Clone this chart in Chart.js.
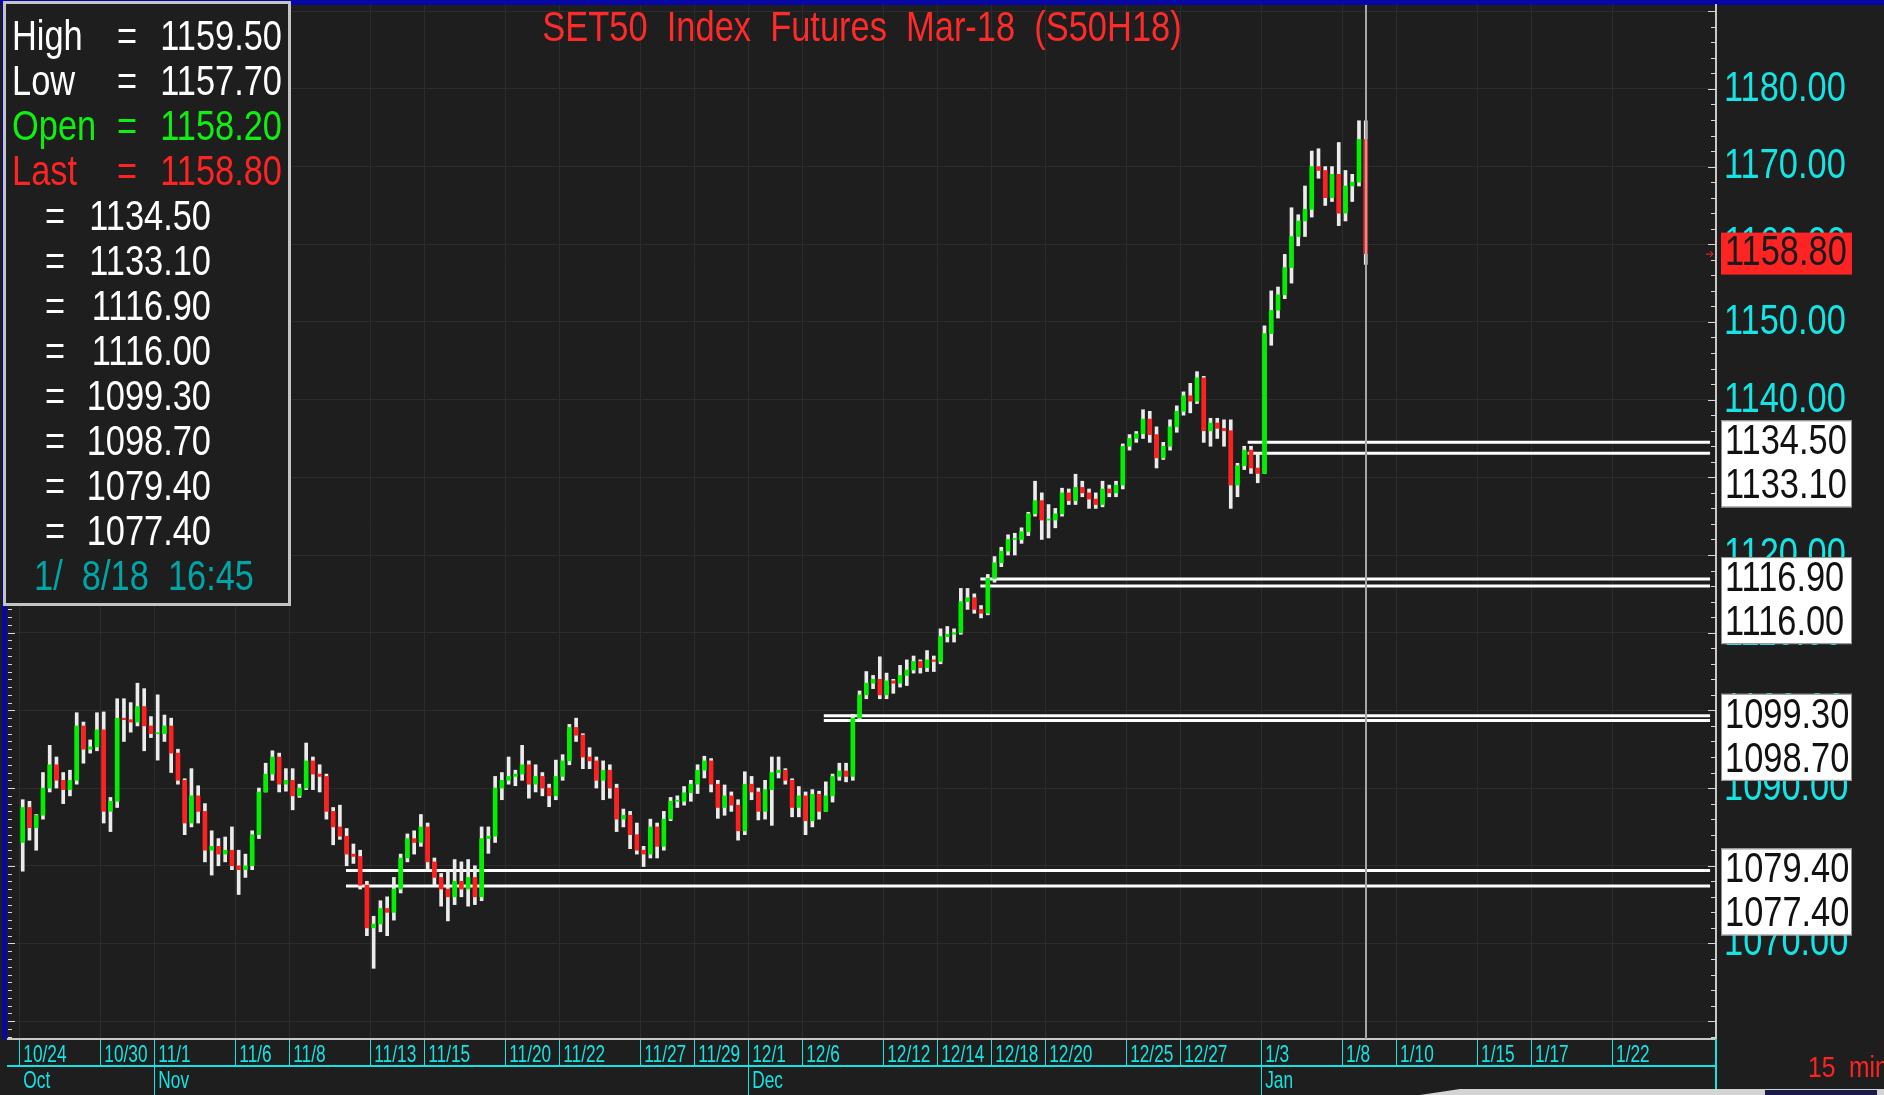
<!DOCTYPE html>
<html>
<head>
<meta charset="utf-8">
<style>
html, body { margin: 0; padding: 0; background: #1e1e1e; overflow: hidden; }
</style>
<script src="https://cdn.jsdelivr.net/npm/chart.js@4.4.1/dist/chart.umd.min.js"></script>
</head>
<body>
<canvas id="chart" width="1884" height="1095"></canvas>
<script>
// trading days shown on the time axis (index = position on the axis)
var allDays = ['10/24', '10/25', '10/27', '10/30', '10/31', '11/1', '11/2', '11/3', '11/6', '11/7',
    '11/8', '11/9', '11/10', '11/13', '11/14', '11/15', '11/16', '11/17', '11/20', '11/21',
    '11/22', '11/23', '11/24', '11/27', '11/28', '11/29', '11/30', '12/1', '12/4', '12/6',
    '12/7', '12/8', '12/12', '12/13', '12/14', '12/15', '12/18', '12/19', '12/20', '12/21',
    '12/22', '12/25', '12/26', '12/27', '12/28', '12/29', '1/3', '1/4', '1/5', '1/8',
    '1/9', '1/10', '1/11', '1/12', '1/15', '1/16', '1/17', '1/18', '1/19', '1/22',
    '1/23', '1/24', '1/25'];
var dateTicks = ['10/24', '10/30', '11/1', '11/6', '11/8', '11/13', '11/15', '11/20', '11/22', '11/27',
    '11/29', '12/1', '12/6', '12/12', '12/14', '12/18', '12/20', '12/25', '12/27', '1/3',
    '1/8', '1/10', '1/15', '1/17', '1/22'];
var monthStarts = ['10/24', '11/1', '12/1', '1/3'];
var monthNames = ['Oct', 'Nov', 'Dec', 'Jan'];

// four bars per trading day, 10/24 .. 1/8
var firstOpen = 1083.0;
var highs = [
    1088.5, 1088.3, 1086.6, 1092.0,  1095.5, 1094.0, 1092.0, 1092.3,  1099.7, 1098.5, 1096.2, 1099.7,
    1099.8, 1088.8, 1101.5, 1101.5,  1101.0, 1103.5, 1102.8, 1099.2,  1102.0, 1099.4, 1099.0, 1095.0,
    1091.2, 1092.5, 1090.3, 1088.0,  1084.5, 1083.5, 1083.7, 1085.0,  1082.0, 1081.5, 1084.5, 1090.0,
    1093.2, 1094.8, 1094.5, 1092.5,  1092.5, 1090.5, 1095.8, 1094.0,  1093.0, 1091.8, 1087.5, 1087.8,
    1084.8, 1082.8, 1082.0, 1078.0,  1073.5, 1075.5, 1076.0, 1078.5,  1081.5, 1084.1, 1084.5, 1086.6,
    1085.5, 1081.0, 1079.0, 1079.5,  1080.8, 1080.5, 1080.8, 1080.0,  1085.0, 1085.0, 1091.5, 1092.0,
    1094.0, 1092.3, 1095.5, 1093.5,  1093.0, 1092.0, 1090.5, 1093.6,  1094.3, 1098.2, 1099.0, 1097.0,
    1095.2, 1094.0, 1093.5, 1093.0,  1090.5, 1087.3, 1087.0, 1085.5,  1082.5, 1086.0, 1085.5, 1087.0,
    1088.8, 1089.0, 1090.2, 1091.0,  1093.0, 1094.1, 1093.8, 1091.0,  1090.4, 1089.5, 1088.5, 1092.1,
    1091.5, 1090.0, 1091.0, 1094.0,  1094.0, 1092.5, 1091.2, 1090.2,  1089.5, 1089.8, 1089.6, 1090.8,
    1091.8, 1093.2, 1093.2, 1099.5,  1102.5, 1105.0, 1104.5, 1106.9,  1104.8, 1104.0, 1105.8, 1106.5,
    1107.0, 1106.5, 1107.7, 1107.0,  1110.5, 1110.8, 1110.5, 1115.7,  1115.7, 1115.0, 1113.5, 1117.5,
    1119.8, 1121.0, 1122.6, 1122.8,  1123.5, 1125.5, 1129.5, 1128.0,  1126.5, 1126.0, 1128.6, 1128.5,
    1130.4, 1129.5, 1128.5, 1128.0,  1129.5, 1129.0, 1129.5, 1134.3,  1135.5, 1135.9, 1138.7, 1138.5,
    1136.5, 1134.5, 1137.4, 1139.2,  1141.0, 1142.1, 1143.6, 1143.0,  1137.6, 1137.6, 1137.4, 1137.4,
    1131.8, 1134.0, 1134.0, 1133.2,  1149.5, 1154.0, 1154.5, 1158.7,  1164.7, 1163.8, 1167.5, 1172.0,
    1172.3, 1170.0, 1170.0, 1173.1,  1169.5, 1169.0, 1175.9, 1175.9
];
var lows = [
    1079.3, 1083.3, 1082.0, 1086.0,  1089.5, 1090.0, 1088.0, 1089.0,  1090.5, 1093.2, 1094.5, 1094.8,
    1085.5, 1084.4, 1087.5, 1096.0,  1097.2, 1098.0, 1094.8, 1096.5,  1093.6, 1096.0, 1092.0, 1090.5,
    1084.0, 1085.0, 1085.5, 1080.5,  1078.8, 1080.0, 1080.5, 1079.5,  1076.3, 1078.5, 1079.5, 1083.5,
    1089.5, 1091.0, 1089.5, 1089.6,  1087.2, 1088.8, 1089.8, 1089.8,  1089.5, 1086.0, 1082.7, 1083.4,
    1080.0, 1080.3, 1077.0, 1071.0,  1066.8, 1071.5, 1071.0, 1073.0,  1076.5, 1080.5, 1081.5, 1082.5,
    1079.5, 1077.5, 1074.8, 1072.9,  1075.0, 1076.0, 1074.8, 1075.0,  1075.5, 1081.6, 1083.0, 1088.5,
    1090.5, 1090.3, 1091.0, 1088.7,  1089.5, 1089.0, 1087.6, 1088.5,  1091.0, 1093.0, 1096.0, 1092.5,
    1092.5, 1090.0, 1088.5, 1088.7,  1084.4, 1085.0, 1082.2, 1081.5,  1079.9, 1081.0, 1081.0, 1082.0,
    1085.8, 1087.5, 1087.8, 1088.3,  1089.3, 1091.3, 1089.5, 1086.1,  1086.5, 1087.0, 1083.3, 1084.0,
    1088.5, 1085.9, 1086.0, 1085.2,  1091.3, 1090.5, 1086.3, 1086.3,  1084.0, 1085.0, 1086.0, 1087.0,
    1088.2, 1091.0, 1090.8, 1091.0,  1098.8, 1101.5, 1102.8, 1101.5,  1101.5, 1102.2, 1103.0, 1103.2,
    1104.8, 1104.8, 1105.0, 1105.0,  1106.0, 1108.8, 1108.8, 1109.8,  1113.0, 1112.5, 1111.9, 1112.3,
    1116.5, 1118.5, 1120.0, 1120.0,  1121.5, 1122.5, 1125.0, 1122.0,  1122.2, 1123.5, 1125.0, 1126.5,
    1126.5, 1127.5, 1126.0, 1126.0,  1126.2, 1127.5, 1127.5, 1128.5,  1133.5, 1134.5, 1135.0, 1134.5,
    1131.2, 1132.3, 1133.5, 1135.8,  1138.0, 1138.3, 1139.5, 1134.5,  1134.0, 1135.0, 1134.0, 1126.0,
    1127.5, 1131.0, 1130.5, 1129.3,  1130.5, 1147.0, 1150.5, 1153.0,  1155.0, 1159.8, 1161.0, 1163.5,
    1168.5, 1165.0, 1165.5, 1162.4,  1163.0, 1165.5, 1167.5, 1157.4
];
var closes = [
    1087.5, 1084.9, 1086.5, 1090.0,  1093.0, 1091.0, 1089.8, 1091.0,  1098.0, 1095.0, 1095.3, 1097.5,
    1087.0, 1088.3, 1099.0, 1098.8,  1098.5, 1100.5, 1098.0, 1097.0,  1097.0, 1098.0, 1094.5, 1091.0,
    1085.5, 1089.0, 1087.0, 1082.0,  1082.5, 1081.5, 1082.0, 1080.0,  1079.5, 1080.0, 1084.0, 1089.5,
    1091.8, 1094.0, 1090.5, 1091.0,  1089.0, 1090.0, 1093.5, 1091.8,  1091.5, 1087.0, 1085.0, 1083.8,
    1081.5, 1081.2, 1077.5, 1072.0,  1072.5, 1074.5, 1074.0, 1077.0,  1081.0, 1083.5, 1083.0, 1085.0,
    1080.5, 1078.5, 1077.0, 1076.0,  1078.0, 1077.0, 1078.5, 1076.0,  1083.5, 1083.8, 1090.0, 1091.0,
    1091.5, 1091.8, 1093.0, 1090.5,  1091.5, 1090.0, 1089.0, 1091.5,  1093.5, 1097.8, 1096.8, 1094.0,
    1093.5, 1091.0, 1092.3, 1090.0,  1086.0, 1086.5, 1084.0, 1082.0,  1081.5, 1085.0, 1082.5, 1086.0,
    1088.3, 1088.3, 1089.4, 1090.5,  1092.3, 1093.5, 1090.5, 1087.5,  1089.0, 1087.8, 1084.5, 1090.5,
    1089.5, 1087.0, 1089.8, 1092.0,  1092.3, 1091.0, 1087.5, 1089.0,  1085.8, 1089.2, 1087.0, 1089.0,
    1091.5, 1092.2, 1091.5, 1099.0,  1102.0, 1103.5, 1104.0, 1102.0,  1103.8, 1103.5, 1104.5, 1105.2,
    1106.3, 1105.5, 1106.5, 1106.3,  1109.5, 1109.8, 1110.0, 1114.0,  1114.5, 1113.0, 1112.5, 1117.0,
    1119.0, 1120.5, 1122.0, 1122.0,  1123.0, 1125.3, 1127.0, 1124.5,  1124.5, 1125.3, 1128.0, 1127.0,
    1128.7, 1128.0, 1127.2, 1126.5,  1128.5, 1128.0, 1129.0, 1134.0,  1135.0, 1135.6, 1137.5, 1135.5,
    1132.5, 1134.0, 1136.5, 1138.5,  1140.5, 1139.8, 1142.8, 1136.0,  1137.0, 1136.3, 1136.0, 1129.0,
    1131.5, 1133.5, 1131.2, 1130.5,  1148.5, 1151.5, 1153.5, 1157.0,  1161.0, 1163.0, 1164.5, 1170.0,
    1169.5, 1166.0, 1169.0, 1164.0,  1167.5, 1168.0, 1173.5, 1158.8
];

// horizontal levels and the day (axis units) where each line starts
var levels = [1134.50, 1133.10, 1116.90, 1116.00, 1099.30, 1098.70, 1079.40, 1077.40];
var levelFrom = [45.5, 45.5, 35.6, 35.6, 29.8, 29.8, 12.1, 12.1];

var infoNames = ['High', 'Low', 'Open', 'Last'];
var infoValues = [1159.50, 1157.70, 1158.20, 1158.80];
var stamp = '1/  8/18  16:45';
var title = 'SET50  Index  Futures  Mar-18  (S50H18)';

var X_MIN = -0.42, X_MAX = 62.85;
var BG = '#1e1e1e';
var CYAN = '#14e4e4';
var SANS = "'Liberation Sans', Arial, sans-serif";
var BIG = 43, BIG_SQ = 0.80;

var barsPerDay = 4;
var barX = closes.map(function (c, i) {
    return Math.floor(i / barsPerDay) + (i % barsPerDay + 0.5) / barsPerDay;
});
// each bar opens where the previous one closed
var opens = closes.map(function (c, i) { return i === 0 ? firstOpen : closes[i - 1]; });

var bodies = closes.map(function (c, i) { return { x: barX[i], y: [opens[i], c] }; });
var wicks = closes.map(function (c, i) { return { x: barX[i], y: [lows[i], highs[i]] }; });

var levelSets = levels.map(function (v, i) {
    return {
        type: 'line',
        data: [{ x: levelFrom[i], y: v }, { x: X_MAX - 0.22, y: v }],
        borderColor: '#ffffff',
        borderWidth: 3,
        pointRadius: 0,
        order: 3
    };
});

function line(c, x1, y1, x2, y2) {
    c.beginPath(); c.moveTo(x1, y1); c.lineTo(x2, y2); c.stroke();
}

// narrow text: Arial metrics squeezed horizontally
function narrowText(c, text, x, y, size, color, align, squeeze) {
    c.save();
    c.font = size + 'px ' + SANS;
    c.fillStyle = color;
    c.textAlign = align || 'left';
    c.textBaseline = 'middle';
    c.translate(x, y);
    c.scale(squeeze || BIG_SQ, 1);
    c.fillText(text, 0, 0);
    c.restore();
}

function noPad(s) {
    s.paddingTop = 0; s.paddingBottom = 0; s.paddingLeft = 0; s.paddingRight = 0;
}

var decor = {
    id: 'decor',
    beforeDraw: function (chart) {
        var c = chart.ctx, a = chart.chartArea;
        c.save();
        c.fillStyle = BG;
        c.fillRect(0, 0, chart.width, chart.height);
        c.fillStyle = '#0707a6';
        c.fillRect(0, 0, chart.width, 5);
        c.fillRect(2, 0, 5, a.bottom);
        c.restore();
    },
    afterDatasetsDraw: function (chart) {
        var c = chart.ctx, a = chart.chartArea, xs = chart.scales.x, ys = chart.scales.y;
        c.save();
        // cursor on the last bar
        var cx = Math.round(xs.getPixelForValue(barX[barX.length - 1]));
        c.strokeStyle = '#a6a6a6';
        c.lineWidth = 2;
        line(c, cx, a.top, cx, a.bottom);
        // small value ticks, left and right edges
        c.strokeStyle = '#d8d8d8';
        c.lineWidth = 1;
        for (var v = Math.ceil(ys.min); v <= ys.max; v++) {
            var y = Math.round(ys.getPixelForValue(v)) + 0.5;
            line(c, a.left, y, a.left + (v % 10 === 0 ? 7 : 4), y);
            if (v % 2 === 0) line(c, a.right - (v % 10 === 0 ? 8 : 5), y, a.right, y);
        }
        c.restore();
    },
    afterDraw: function (chart) {
        var c = chart.ctx, a = chart.chartArea;
        var xs = chart.scales.x, x2s = chart.scales.x2, ys = chart.scales.y;
        c.save();

        // axis labels
        ys.ticks.forEach(function (t) {
            if (t.value % 10 === 0 && t.value >= 1070 && t.value <= 1180) {
                narrowText(c, t.value.toFixed(2), a.right + 8, ys.getPixelForValue(t.value), BIG, CYAN);
            }
        });
        xs.ticks.forEach(function (t, i) {
            narrowText(c, dateTicks[i], xs.getPixelForValue(t.value) + 4, 1055, 24, CYAN, 'left', 0.72);
        });
        x2s.ticks.forEach(function (t, i) {
            narrowText(c, monthNames[i], x2s.getPixelForValue(t.value) + 4, 1081, 24, CYAN, 'left', 0.72);
        });

        // title
        narrowText(c, title, (a.left + a.right) / 2, 29, 42, '#ff2a2a', 'center', 0.82);

        // info box
        c.fillStyle = BG;
        c.fillRect(4, 2, 286, 603);
        c.strokeStyle = '#c4c4c4';
        c.lineWidth = 3;
        c.strokeRect(4.5, 2.5, 285, 602);
        var infoColors = ['#ffffff', '#ffffff', '#10f010', '#ff2424'];
        for (var i = 0; i < infoNames.length; i++) {
            var ry = 38 + i * 45;
            narrowText(c, infoNames[i], 12, ry, BIG, infoColors[i], 'left');
            narrowText(c, '=', 127, ry, BIG, infoColors[i], 'center');
            narrowText(c, infoValues[i].toFixed(2), 282, ry, BIG, infoColors[i], 'right');
        }
        for (var j = 0; j < levels.length; j++) {
            var ly = 38 + (j + 4) * 45;
            narrowText(c, '=', 55, ly, BIG, '#ffffff', 'center');
            narrowText(c, levels[j].toFixed(2), 211, ly, BIG, '#ffffff', 'right');
        }
        narrowText(c, stamp, 144, 38 + 12 * 45, BIG, '#00a6a6', 'center');

        // level boxes on the price axis
        for (var p = 0; p < levels.length; p += 2) {
            var y1 = ys.getPixelForValue(levels[p]);
            c.fillStyle = '#ffffff';
            c.fillRect(1721, y1 - 22, 131, 87);
            c.strokeStyle = '#909090';
            c.lineWidth = 1;
            c.strokeRect(1721.5, y1 - 21.5, 130, 86);
            narrowText(c, levels[p].toFixed(2), 1725, y1, BIG, '#111111');
            narrowText(c, levels[p + 1].toFixed(2), 1725, y1 + 44, BIG, '#111111');
        }

        // last price box and marker
        var last = closes[closes.length - 1];
        var yl = ys.getPixelForValue(last);
        c.fillStyle = '#ff2424';
        c.fillRect(1721, yl - 21, 131, 42);
        narrowText(c, last.toFixed(2), 1725, yl, BIG, '#1a1a1a');
        c.strokeStyle = '#ff2424';
        c.lineWidth = 1;
        line(c, 1706, yl + 0.5, 1713, yl + 0.5);
        line(c, 1710, yl - 2.5, 1713, yl + 0.5);
        line(c, 1710, yl + 3.5, 1713, yl + 0.5);

        // right end of the time axis
        c.strokeStyle = CYAN;
        c.lineWidth = 2;
        line(c, a.right, a.bottom, a.right, chart.height);

        // bar interval
        narrowText(c, '15  min', 1808, 1069, 30, '#ff2424', 'left', 0.82);

        // strip of the window below
        c.fillStyle = '#d4d4d4';
        c.beginPath();
        c.moveTo(1420, 1095); c.lineTo(1460, 1089); c.lineTo(1884, 1089); c.lineTo(1884, 1095);
        c.closePath(); c.fill();
        c.fillStyle = '#1c1a4a';
        c.fillRect(1765, 1090, 112, 5);
        c.restore();
    }
};

var ctx = document.getElementById('chart').getContext('2d');
var chart = new Chart(ctx, {
    type: 'bar',
    data: {
        datasets: levelSets.concat([{
            label: 'body',
            data: bodies,
            backgroundColor: function (context) {
                var i = context.dataIndex;
                return closes[i] >= opens[i] ? '#00f000' : '#ff2020';
            },
            barThickness: 4,
            minBarLength: 1,
            grouped: false,
            order: 1
        }, {
            label: 'wick',
            data: wicks,
            backgroundColor: '#ececec',
            barThickness: 3,
            grouped: false,
            order: 2
        }])
    },
    options: {
        responsive: false,
        animation: false,
        devicePixelRatio: 1,
        layout: { padding: { left: 8, top: 5, right: 0, bottom: 0 } },
        plugins: {
            legend: { display: false },
            tooltip: { enabled: false },
            title: { display: false }
        },
        scales: {
            x: {
                type: 'linear',
                min: X_MIN,
                max: X_MAX,
                offset: false,
                afterBuildTicks: function (s) {
                    s.ticks = dateTicks.map(function (d) { return { value: allDays.indexOf(d) }; });
                },
                afterFit: function (s) { s.height = 27; noPad(s); },
                ticks: { display: false, autoSkip: false },
                grid: { offset: false, color: '#2c2c2c', tickColor: CYAN, tickLength: 27 },
                border: { color: '#c8c8c8', width: 2 }
            },
            x2: {
                type: 'linear',
                position: 'bottom',
                weight: 1,
                min: X_MIN,
                max: X_MAX,
                offset: false,
                afterBuildTicks: function (s) {
                    s.ticks = monthStarts.map(function (d) { return { value: allDays.indexOf(d) }; });
                },
                afterFit: function (s) { s.height = 29; noPad(s); },
                ticks: { display: false, autoSkip: false },
                grid: {
                    offset: false,
                    drawOnChartArea: false,
                    tickLength: 29,
                    tickColor: function (context) { return context.index === 0 ? 'rgba(0,0,0,0)' : CYAN; }
                },
                border: { color: CYAN, width: 2 }
            },
            y: {
                type: 'linear',
                position: 'right',
                min: 1057.7,
                max: 1190.8,
                afterBuildTicks: function (s) {
                    var t = [];
                    for (var v = 1058; v <= 1190; v += 2) t.push({ value: v });
                    s.ticks = t;
                },
                afterFit: function (s) { s.width = 168; noPad(s); },
                ticks: { display: false, autoSkip: false },
                grid: {
                    drawTicks: false,
                    color: function (context) {
                        return context.tick && context.tick.value % 10 === 0 ? '#2c2c2c' : 'rgba(0,0,0,0)';
                    }
                },
                border: { color: '#c8c8c8', width: 2 }
            }
        }
    },
    plugins: [decor]
});
</script>
</body>
</html>
